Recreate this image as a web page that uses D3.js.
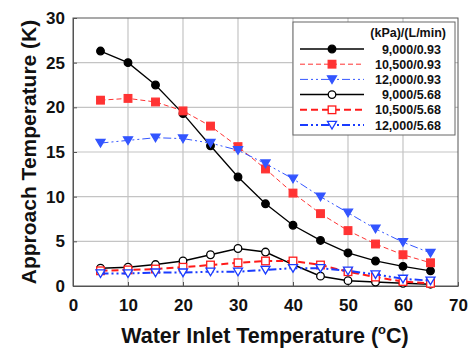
<!DOCTYPE html>
<html>
<head>
<meta charset="utf-8">
<script src="https://cdn.jsdelivr.net/npm/d3@7"></script>
<style>
  body { margin: 0; background: #fff; }
  svg text { font-family: "Liberation Sans", Arial, sans-serif; font-weight: bold; fill: #111; }
</style>
</head>
<body>
<svg class="chart" width="468" height="349"></svg>
<script>
// water inlet temperature (C)
var temps = [5, 10, 15, 20, 25, 30, 35, 40, 45, 50, 55, 60, 65];

var s9000_093  = [26.3, 25.0, 22.5, 19.3, 15.7, 12.2, 9.2, 6.8, 5.1, 3.7, 2.8, 2.2, 1.7];
var s10500_093 = [20.8, 21.0, 20.6, 19.6, 17.9, 15.6, 13.1, 10.4, 8.1, 6.2, 4.7, 3.5, 2.6];
var s12000_093 = [16.0, 16.3, 16.6, 16.5, 16.0, 15.2, 13.7, 12.0, 10.0, 8.2, 6.4, 4.9, 3.7];
var s9000_568  = [2.0, 2.1, 2.4, 2.8, 3.5, 4.2, 3.8, 2.4, 1.1, 0.6, 0.45, 0.3, 0.2];
var s10500_568 = [1.7, 1.8, 1.9, 2.1, 2.35, 2.6, 2.8, 2.8, 2.35, 1.6, 1.0, 0.5, 0.3];
var s12000_568 = [1.4, 1.4, 1.5, 1.5, 1.6, 1.6, 1.8, 2.0, 2.0, 1.7, 1.3, 0.8, 0.6];

var seriesNames = ["9,000/0.93", "10,500/0.93", "12,000/0.93", "9,000/5.68", "10,500/5.68", "12,000/5.68"];
var xTicks = [0, 10, 20, 30, 40, 50, 60, 70];
var yTicks = [0, 5, 10, 15, 20, 25, 30];

var series = [
  {name: seriesNames[0], values: s9000_093,  color: "#000", dash: null,          width: 1.3, marker: "circle",   fill: true},
  {name: seriesNames[1], values: s10500_093, color: "#ff3333", dash: "5,3",      width: 1, marker: "square",   fill: true},
  {name: seriesNames[2], values: s12000_093, color: "#3355ff", dash: "8,3,2,3,2,3", width: 1, marker: "triangle", fill: true},
  {name: seriesNames[3], values: s9000_568,  color: "#000", dash: null,          width: 1.5, marker: "circle",   fill: false},
  {name: seriesNames[4], values: s10500_568, color: "#ff1a1a", dash: "7,4",      width: 2, marker: "square",   fill: false},
  {name: seriesNames[5], values: s12000_568, color: "#1a3cff", dash: "8,3,2,3,2,3", width: 2, marker: "triangle", fill: false}
];

var chart = d3.select(".chart"),
    margin = {top: 18, right: 10, bottom: 63, left: 73},
    width = 458 - margin.left,
    height = 286 - margin.top;
var g = chart.append("g").attr("transform", "translate(" + margin.left + "," + margin.top + ")");

var xScale = d3.scaleLinear().domain([0, 70]).range([0, width]);
var yScale = d3.scaleLinear().domain([0, 30]).range([height, 0]);

// grid
g.append("g").selectAll("line").data(xTicks.slice(1, -1)).enter().append("line")
    .attr("x1", function(d){ return xScale(d); }).attr("x2", function(d){ return xScale(d); })
    .attr("y1", 0).attr("y2", height)
    .attr("stroke", "#c4c4c4").attr("stroke-width", 1.2);
g.append("g").selectAll("line").data(yTicks.slice(1, -1)).enter().append("line")
    .attr("y1", function(d){ return yScale(d); }).attr("y2", function(d){ return yScale(d); })
    .attr("x1", 0).attr("x2", width)
    .attr("stroke", "#c4c4c4").attr("stroke-width", 1.2);

// axes
var xAxis = g.append("g")
    .attr("transform", "translate(0," + height + ")")
    .call(d3.axisBottom(xScale).tickValues(xTicks).tickSizeInner(-4).tickSizeOuter(0).tickPadding(10));
var yAxis = g.append("g")
    .call(d3.axisLeft(yScale).tickValues(yTicks).tickSizeInner(-4).tickSizeOuter(0).tickPadding(8));
[xAxis, yAxis].forEach(function(a){
  a.select(".domain").attr("stroke", "#555");
  a.selectAll(".tick line").attr("stroke", "#555");
  a.selectAll(".tick text").style("font-size", "17px").attr("fill", "#111");
});
xAxis.selectAll(".tick text").attr("dy", "0.9em");

// frame top/right
g.append("rect").attr("width", width).attr("height", height)
    .attr("fill", "none").attr("stroke", "#555").attr("stroke-width", 1);

var line = d3.line()
    .x(function(d, i) { return xScale(temps[i]); })
    .y(function(d) { return yScale(d); });

function drawMarker(sel, s, x, y) {
  var f = s.fill ? s.color : "#fff";
  if (s.marker === "circle") {
    sel.append("circle").attr("cx", x).attr("cy", y).attr("r", 3.8)
      .attr("fill", f).attr("stroke", s.color).attr("stroke-width", 1.3);
  } else if (s.marker === "square") {
    sel.append("rect").attr("x", x - 3.8).attr("y", y - 3.8).attr("width", 7.6).attr("height", 7.6)
      .attr("fill", f).attr("stroke", s.color).attr("stroke-width", 1.3);
  } else {
    sel.append("path").attr("d", "M" + (x - 4.5) + "," + (y - 3.6) + "L" + (x + 4.5) + "," + (y - 3.6) + "L" + x + "," + (y + 4) + "Z")
      .attr("fill", f).attr("stroke", s.color).attr("stroke-width", 1.3);
  }
}

series.forEach(function(s) {
  g.append("path")
    .datum(s.values)
    .attr("fill", "none")
    .attr("stroke", s.color)
    .attr("stroke-width", s.width)
    .attr("stroke-dasharray", s.dash)
    .attr("d", line);
  var mg = g.append("g");
  s.values.forEach(function(v, i) {
    drawMarker(mg, s, xScale(temps[i]), yScale(v));
  });
});

// legend
var lg = chart.append("g").attr("transform", "translate(293,22)");
lg.append("rect").attr("width", 162).attr("height", 113)
  .attr("fill", "#fff").attr("stroke", "#666").attr("stroke-width", 1);
lg.append("text").attr("x", 153).attr("y", 15).attr("text-anchor", "end")
  .style("font-size", "12.5px").text("(kPa)/(L/min)");
series.forEach(function(s, i) {
  var y = 27 + i * 15.2;
  lg.append("line").attr("x1", 7).attr("x2", 71).attr("y1", y).attr("y2", y)
    .attr("stroke", s.color).attr("stroke-width", s.width).attr("stroke-dasharray", s.dash);
  drawMarker(lg, s, 39, y);
  lg.append("text").attr("x", 148).attr("y", y + 4.5).attr("text-anchor", "end")
    .style("font-size", "12.5px").text(s.name);
});

// axis titles
chart.append("text")
  .attr("transform", "translate(36," + (margin.top + height / 2) + ") rotate(-90)")
  .attr("text-anchor", "middle")
  .style("font-size", "21px")
  .text("Approach Temperature (K)");

var xt = chart.append("text")
  .attr("x", 265).attr("y", 343)
  .attr("text-anchor", "middle")
  .style("font-size", "21.5px");
xt.append("tspan").text("Water Inlet Temperature (");
xt.append("tspan").attr("dy", -9).style("font-size", "13px").text("o");
xt.append("tspan").attr("dy", 9).text("C)");
</script>
</body>
</html>
